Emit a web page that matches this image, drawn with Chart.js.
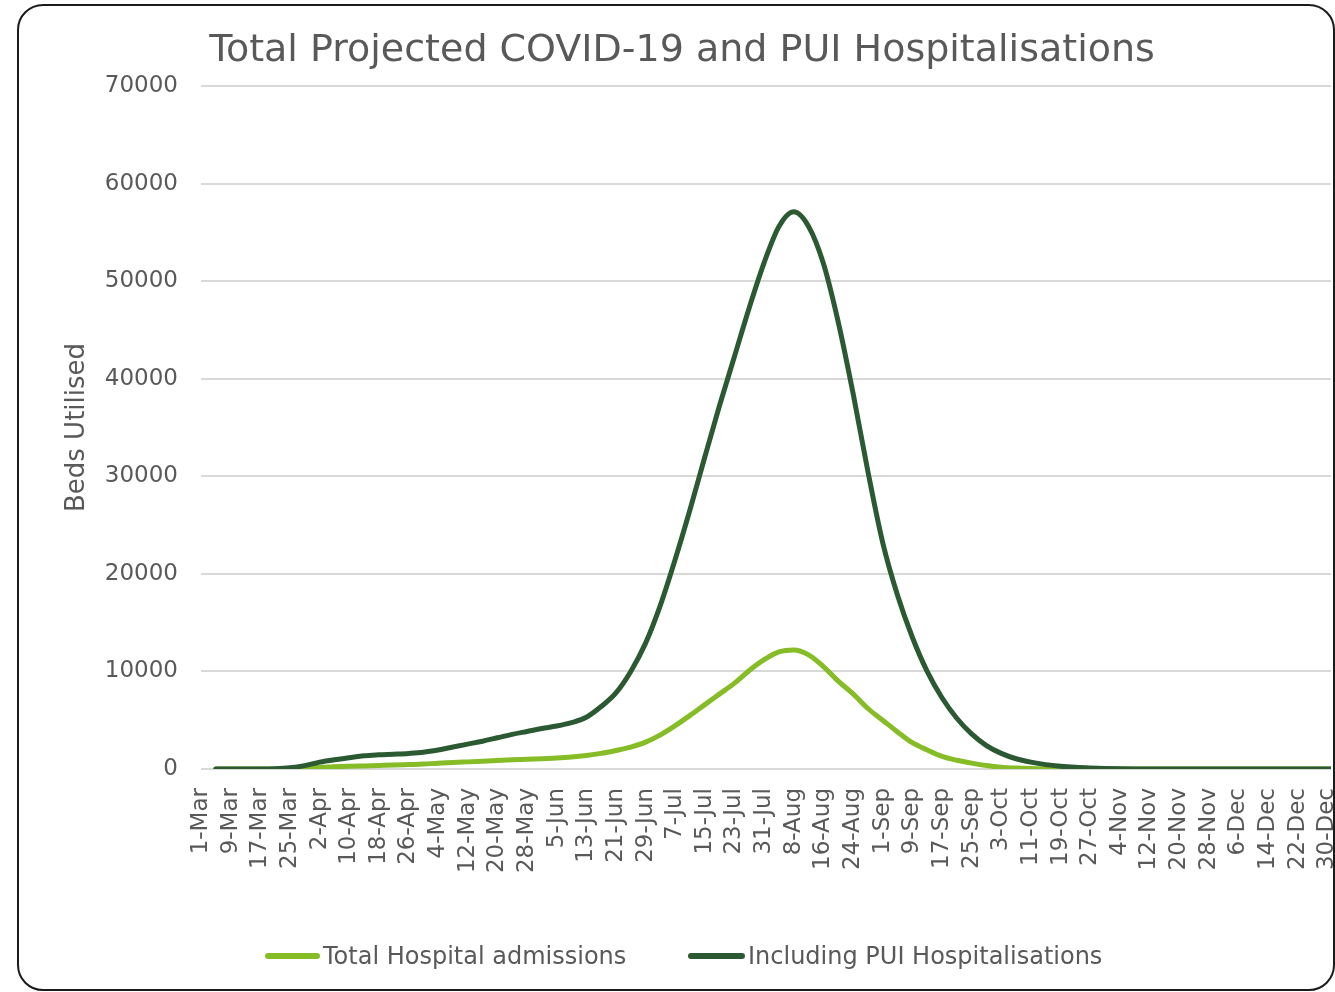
<!DOCTYPE html>
<html>
<head>
<meta charset="utf-8">
<script src="https://cdn.jsdelivr.net/npm/chart.js@4.4.1/dist/chart.umd.min.js"></script>
<style>
html,body{margin:0;padding:0;background:#fff;width:1335px;height:992px;overflow:hidden;font-family:"DejaVu Sans",Verdana,sans-serif;}
#frame{position:absolute;left:17px;top:4px;width:1318px;height:987px;box-sizing:border-box;border:2px solid #1b1b1b;border-radius:26px;}
#c{position:absolute;left:0;top:0;}
.sw{position:absolute;height:6px;border-radius:3px;top:953px;}
.lt{position:absolute;top:942px;line-height:28px;font-size:24px;color:#595959;white-space:nowrap;}
</style>
</head>
<body>
<div id="frame"></div>
<canvas id="c" width="1335" height="992"></canvas>
<div class="sw" style="left:265px;width:55px;background:#86bc25"></div>
<div class="lt" style="left:323px">Total Hospital admissions</div>
<div class="sw" style="left:688px;width:57px;background:#2b5a32"></div>
<div class="lt" style="left:748px">Including PUI Hospitalisations</div>
<script>
// Tick labels (every 8th day starting 1-Mar; day 0 = 1-Mar)
const tickLabels = ['1-Mar','9-Mar','17-Mar','25-Mar','2-Apr','10-Apr','18-Apr','26-Apr','4-May','12-May','20-May','28-May','5-Jun','13-Jun','21-Jun','29-Jun','7-Jul','15-Jul','23-Jul','31-Jul','8-Aug','16-Aug','24-Aug','1-Sep','9-Sep','17-Sep','25-Sep','3-Oct','11-Oct','19-Oct','27-Oct','4-Nov','12-Nov','20-Nov','28-Nov','6-Dec','14-Dec','22-Dec','30-Dec'];
const tickDays = [0,8,16,24,32,40,48,56,64,72,80,88,96,104,112,120,128,136,144,152,160,168,176,184,192,200,208,216,224,232,240,248,256,264,272,280,288,296,304];

const sampleDays = [4,8,12,16,20,24,28,32,36,40,44,48,52,56,60,64,68,72,76,80,84,88,92,96,100,104,108,112,116,120,124,128,132,136,140,144,148,152,156,160,164,168,172,176,180,184,188,192,196,200,204,208,212,216,220,224,228,232,236,240,244,248,252,264,280,296,305];

const totalAdmissions = [0,0,0,0,0,20,100,180,230,280,320,360,400,450,500,600,660,730,800,870,940,1000,1060,1120,1220,1380,1600,1900,2250,2750,3500,4450,5500,6600,7700,8800,10100,11200,12000,12200,11700,10500,9000,7700,6200,5000,3800,2700,1950,1300,900,600,350,180,90,40,10,0,0,0,0,0,0,0,0,0,0];

const includingPUI = [0,0,0,0,20,120,350,700,950,1150,1350,1450,1520,1600,1720,1950,2250,2550,2850,3200,3550,3850,4150,4400,4750,5300,6400,7800,10000,12900,16800,21500,26600,32000,37300,42300,47300,51900,55600,57100,55600,51800,45800,38500,30500,23200,17800,13500,10000,7300,5200,3600,2400,1600,1050,700,450,280,170,100,50,20,5,0,0,0,0];

const seriesNames = ['Total Hospital admissions','Including PUI Hospitalisations'];
const grey = '#595959';
const fam = "'DejaVu Sans', Verdana, sans-serif";

function pts(arr){ return sampleDays.map((d,i)=>({x:d,y:arr[i]})); }

new Chart(document.getElementById('c'), {
  type: 'line',
  data: {
    datasets: [
      { label: seriesNames[0], data: pts(totalAdmissions), borderColor:'#86bc25', backgroundColor:'#86bc25',
        borderWidth:5, pointRadius:0, cubicInterpolationMode:'monotone', fill:false, order:1,
        borderCapStyle:'round', borderJoinStyle:'round' },
      { label: seriesNames[1], data: pts(includingPUI), borderColor:'#2b5a32', backgroundColor:'#2b5a32',
        borderWidth:5, pointRadius:0, cubicInterpolationMode:'monotone', fill:false, order:0,
        borderCapStyle:'round', borderJoinStyle:'round' }
    ]
  },
  options: {
    responsive:false, animation:false, devicePixelRatio:1,
    layout:{ padding:{left:33,right:4,top:0,bottom:0} },
    plugins:{
      legend:{display:false},
      tooltip:{enabled:false},
      title:{ display:true, text:'Total Projected COVID-19 and PUI Hospitalisations', color:grey,
        font:{family:fam,size:38,weight:'normal'}, padding:{top:28,bottom:12.4} }
    },
    scales:{
      x:{ type:'linear', min:0, max:305,
        afterBuildTicks: s => { s.ticks = tickDays.map(v=>({value:v})); },
        afterFit: s => { s.height = 223; s.paddingLeft = 0; s.paddingRight = 0; },
        ticks:{ autoSkip:false, minRotation:90, maxRotation:90, color:grey, padding:11,
          font:{family:fam,size:23}, callback:(v,i)=>tickLabels[i] },
        grid:{display:false}, border:{display:false} },
      y:{ min:0, max:70000,
        afterFit: s => { s.width = 168; s.paddingTop = 0; s.paddingBottom = 0; },
        ticks:{ stepSize:10000, color:grey, padding:23, font:{family:fam,size:23}, callback:v=>String(v) },
        grid:{ color:'#d9d9d9', lineWidth:2, drawTicks:false },
        border:{display:false},
        title:{ display:true, text:'Beds Utilised', color:grey, font:{family:fam,size:26}, padding:{top:29,bottom:0} } }
    }
  }
});
</script>
</body>
</html>
